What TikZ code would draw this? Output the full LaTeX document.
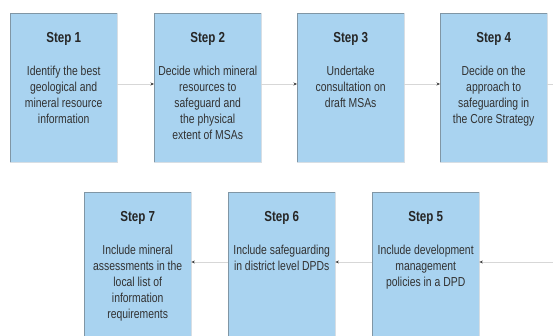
\documentclass[tikz,border=0pt]{standalone}
\usepackage{fontspec}
\setmainfont{Liberation Sans}[FakeStretch=0.8]
\usetikzlibrary{arrows.meta,calc}
\definecolor{boxfill}{RGB}{169,211,240}
\definecolor{edgedark}{RGB}{128,150,165}
\definecolor{edgelight}{RGB}{215,222,228}
\definecolor{linkgray}{RGB}{215,215,215}
\definecolor{txt}{RGB}{50,50,50}
\begin{document}
\begin{tikzpicture}[x=1pt,y=-1pt,
  stepbox/.style={fill=boxfill, minimum width=107pt, minimum height=149pt, anchor=north west, inner sep=0pt},
  lowbox/.style={stepbox, minimum height=170pt},
  darkedge/.style={draw=edgedark, line width=0.9pt},
  lightedge/.style={draw=edgelight, line width=0.9pt},
  steptitle/.style={font=\fontsize{14.5}{16}\selectfont\bfseries, text=black!85, inner sep=0pt},
  stepbody/.style={font=\fontsize{13}{16}\selectfont, text=txt, align=center, inner sep=0pt, anchor=north},
  link/.style={draw=linkgray, line width=0.6pt, -{Stealth[length=3.5pt,width=3pt,color=black!75]}},
  tail/.style={draw=linkgray, line width=0.6pt}]
\useasboundingbox (0,0) rectangle (553,336);
\clip (0,0) rectangle (553,336);
\fill[white] (0,0) rectangle (553,336);
% row 1
\node[stepbox] (b1) at (10,13) {};
\node[stepbox] (b2) at (154,13) {};
\node[stepbox] (b3) at (297,13) {};
\node[stepbox] (b4) at (440,13) {};
% row 2
\node[lowbox] (b7) at (84,192) {};
\node[lowbox] (b6) at (228,192) {};
\node[lowbox] (b5) at (372,192) {};
% box edges
\foreach \b in {b1,b2,b3,b4,b5,b6,b7}{
  \draw[lightedge] (\b.north east) -- (\b.south east) -- (\b.south west);
  \draw[darkedge] (\b.south west) -- (\b.north west) -- (\b.north east);
}
% titles
\node[steptitle] (t1) at ($(b1.north)+(0,26)$) {Step 1};
\node[steptitle] (t2) at ($(b2.north)+(0,26)$) {Step 2};
\node[steptitle] (t3) at ($(b3.north)+(0,26)$) {Step 3};
\node[steptitle] (t4) at ($(b4.north)+(0,26)$) {Step 4};
\node[steptitle] (t5) at ($(b5.north)+(0,26)$) {Step 5};
\node[steptitle] (t6) at ($(b6.north)+(0,26)$) {Step 6};
\node[steptitle] (t7) at ($(b7.north)+(0,26)$) {Step 7};
% bodies
\node[stepbody] (x1) at ($(b1.north)+(0,53)$) {Identify the best\\geological and\\mineral resource\\information};
\node[stepbody] (x2) at ($(b2.north)+(0,53)$) {Decide which mineral\\resources to\\safeguard and\\the physical\\extent of MSAs};
\node[stepbody] (x3) at ($(b3.north)+(0,53)$) {Undertake\\consultation on\\draft MSAs};
\node[stepbody] (x4) at ($(b4.north)+(0,53)$) {Decide on the\\approach to\\safeguarding in\\the Core Strategy};
\node[stepbody] (x5) at ($(b5.north)+(0,53)$) {Include development\\management\\policies in a DPD};
\node[stepbody] (x6) at ($(b6.north)+(0,53)$) {Include safeguarding\\in district level DPDs};
\node[stepbody] (x7) at ($(b7.north)+(0,53)$) {Include mineral\\assessments in the\\local list of\\information\\requirements};
% connectors
\coordinate (r1) at (0,84);
\coordinate (e1) at (553,84);
\coordinate (e2) at (553,262);
\draw[link] (b1.east |- r1) -- (b2.west |- r1);
\draw[link] (b2.east |- r1) -- (b3.west |- r1);
\draw[link] (b3.east |- r1) -- (b4.west |- r1);
\draw[tail] (b4.east |- r1) -- (e1);
\draw[link] (e2) -- (b5.east |- e2);
\draw[link] (b5.west |- e2) -- (b6.east |- e2);
\draw[link] (b6.west |- e2) -- (b7.east |- e2);
\end{tikzpicture}
\end{document}
